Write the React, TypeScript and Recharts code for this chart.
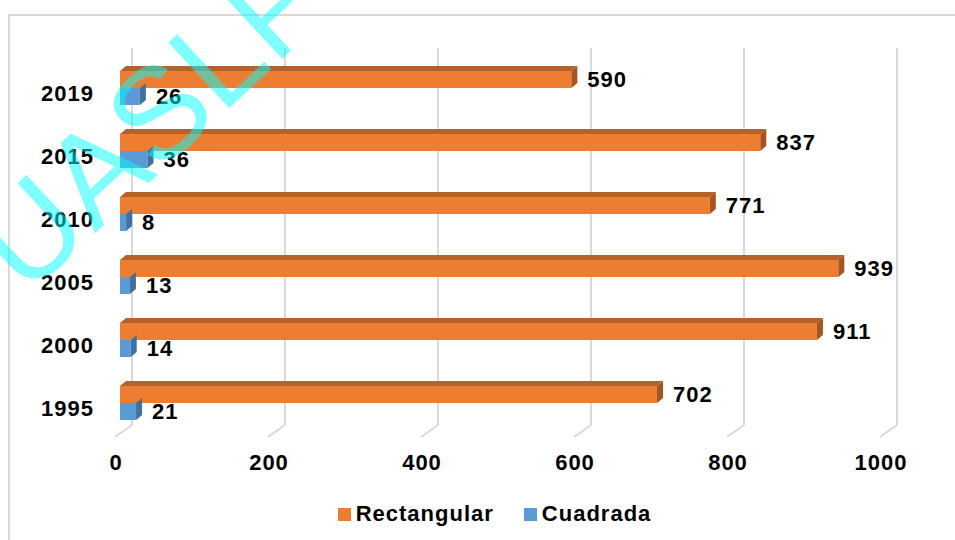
import { BarChart, Bar, XAxis, YAxis, CartesianGrid, LabelList, Legend } from 'recharts';

const years = ['2019', '2015', '2010', '2005', '2000', '1995'];
const rectangular = [590, 837, 771, 939, 911, 702];
const cuadrada = [26, 36, 8, 13, 14, 21];
const xTicks = [0, 200, 400, 600, 800, 1000];

const ORANGE = '#ED7D31';
const BLUE = '#5B9BD5';
const FONT = '"Liberation Sans", Arial, sans-serif';

const data = years.map((year, i) => ({
    year,
    rectangular: rectangular[i],
    cuadrada: cuadrada[i],
}));

// fake 3d box: front face + slanted top and right faces
function Box3D(props: any) {
    const { x, y, width, height, front, top, side, showTop } = props;
    const dx = 6;
    const dy = 5;
    const r = x + width;
    return (
        <g>
            {showTop && (
                <polygon
                    points={`${x},${y} ${x + dx},${y - dy} ${r + dx},${y - dy} ${r},${y}`}
                    fill={top}
                />
            )}
            <rect x={x} y={y} width={width} height={height} fill={front} />
            <polygon
                points={`${r},${y} ${r + dx},${y - dy} ${r + dx},${y + height - dy} ${r},${y + height}`}
                fill={side}
            />
        </g>
    );
}

// grid line on the back wall, with a slanted floor segment
function GridLine(props: any) {
    const { x1, index } = props;
    const back = x1 + 12;
    return (
        <g key={`grid-${index}`}>
            <line x1={back} y1={48} x2={back} y2={425} stroke="#D9D9D9" strokeWidth={2} />
            <line x1={back} y1={425} x2={x1 - 5} y2={437} stroke="#D9D9D9" strokeWidth={2} />
        </g>
    );
}

function YearTick(props: any) {
    const { y, payload } = props;
    return (
        <text x={94} y={y + 13} textAnchor="end" fontFamily={FONT} fontWeight="bold" fontSize={22} letterSpacing={1} fill="#000">
            {payload.value}
        </text>
    );
}

function ValueTick(props: any) {
    const { x, payload } = props;
    return (
        <text x={x - 4} y={470} textAnchor="middle" fontFamily={FONT} fontWeight="bold" fontSize={22} letterSpacing={1} fill="#000">
            {payload.value}
        </text>
    );
}

function LegendRow() {
    const items = [
        { label: 'Rectangular', color: ORANGE },
        { label: 'Cuadrada', color: BLUE },
    ];
    return (
        <div style={{ display: 'flex', justifyContent: 'center', alignItems: 'center', gap: 30, paddingLeft: 34 }}>
            {items.map(it => (
                <div key={it.label} style={{ display: 'flex', alignItems: 'center' }}>
                    <span style={{ display: 'inline-block', width: 13, height: 13, background: it.color, marginRight: 5 }} />
                    <span style={{ fontFamily: FONT, fontWeight: 'bold', fontSize: 22, letterSpacing: 1, color: '#000' }}>
                        {it.label}
                    </span>
                </div>
            ))}
        </div>
    );
}

export default function App() {
    return (
        <div style={{ position: 'absolute', left: 0, top: 0, width: 955, height: 540, background: '#fff', overflow: 'hidden' }}>
            <div style={{ position: 'absolute', left: 8, top: 14, width: 960, height: 540, border: '2px solid #D9D9D9' }} />
            <div style={{ position: 'absolute', left: 0, top: 0 }}>
                <BarChart
                    width={955}
                    height={540}
                    data={data}
                    layout="vertical"
                    margin={{ top: 56, right: 70, left: 0, bottom: 66 }}
                    barSize={17}
                    barGap={0}
                >
                    <CartesianGrid horizontal={false} vertical={(p: any) => <GridLine {...p} />} />
                    <XAxis
                        type="number"
                        domain={[0, 1000]}
                        ticks={xTicks}
                        axisLine={false}
                        tickLine={false}
                        height={40}
                        tick={<ValueTick />}
                        interval={0}
                    />
                    <YAxis
                        type="category"
                        dataKey="year"
                        width={120}
                        axisLine={false}
                        tickLine={false}
                        tick={<YearTick />}
                    />
                    <Legend
                        layout="horizontal"
                        verticalAlign="middle"
                        wrapperStyle={{ top: 501, left: 0, width: 955 }}
                        content={() => <LegendRow />}
                    />
                    <Bar
                        dataKey="rectangular"
                        name="Rectangular"
                        fill={ORANGE}
                        isAnimationActive={false}
                        shape={(p: any) => <Box3D {...p} front={ORANGE} top="#B5612A" side="#A4561F" showTop />}
                    >
                        <LabelList dataKey="rectangular" position="right" offset={16} fill="#000" fontFamily={FONT} fontWeight="bold" fontSize={22} letterSpacing={1} />
                    </Bar>
                    <Bar
                        dataKey="cuadrada"
                        name="Cuadrada"
                        fill={BLUE}
                        isAnimationActive={false}
                        shape={(p: any) => <Box3D {...p} front={BLUE} top="#4A80B3" side="#41719C" showTop={false} />}
                    >
                        <LabelList dataKey="cuadrada" position="right" offset={16} fill="#000" fontFamily={FONT} fontWeight="bold" fontSize={22} letterSpacing={1} />
                    </Bar>
                </BarChart>
            </div>
            <svg width={955} height={540} style={{ position: 'absolute', left: 0, top: 0, pointerEvents: 'none' }}>
                <text
                    x={150}
                    y={118}
                    dy="0.36em"
                    textAnchor="middle"
                    transform="rotate(-43 150 118)"
                    fontFamily={FONT}
                    fontSize={130}
                    fill="rgba(0,255,255,0.5)"
                >
                    UASLP
                </text>
            </svg>
        </div>
    );
}
